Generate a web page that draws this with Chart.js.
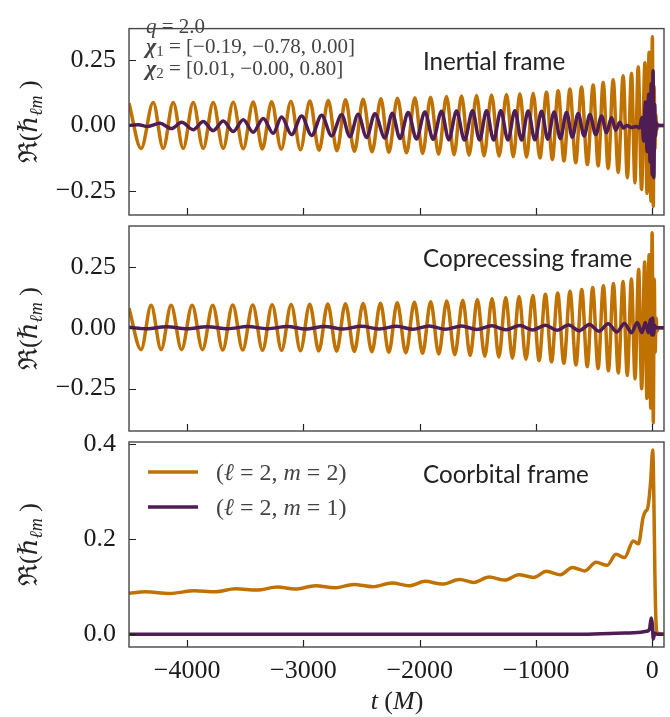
<!DOCTYPE html>
<html>
<head>
<meta charset="utf-8">
<script src="https://cdn.jsdelivr.net/npm/chart.js@4.4.1/dist/chart.umd.min.js"></script>
<style>
  html, body { margin: 0; padding: 0; background: #fff; }
  #wrap { position: relative; width: 670px; height: 717px; }
  #wrap canvas { position: absolute; left: 0; top: 0; }
</style>
</head>
<body>
<div id="wrap">
  <canvas id="inertial" width="670" height="717"></canvas>
  <canvas id="coprec" width="670" height="717"></canvas>
  <canvas id="coorb" width="670" height="717"></canvas>
</div>
<script>
const timeTicks = [-4000, -3000, -2000, -1000, 0];
const strainTicks = [-0.25, 0, 0.25];
const coorbTicks = [0, 0.2, 0.4];
const modeLabels = ["(ℓ = 2, m = 2)", "(ℓ = 2, m = 1)"];
const frameNames = ["Inertial frame", "Coprecessing frame", "Coorbital frame"];
const infoLines = ["q = 2.0", " = [−0.19, −0.78, 0.00]", " = [0.01, −0.00, 0.80]"];

// [t, Re h] at the turning points
const inertial22 = [[-4500,0.085],[-4396,-0.088],[-4292,0.088],[-4206,-0.088],[-4120,0.088],[-4034,-0.088],[-3948,0.088],[-3862,-0.088],[-3776,0.088],[-3690,-0.088],[-3604,0.089],[-3518,-0.089],[-3432,0.09],[-3353,-0.09],[-3274,0.091],[-3191,-0.091],[-3108,0.092],[-3026,-0.093],[-2945,0.094],[-2866,-0.095],[-2787,0.096],[-2712,-0.097],[-2638,0.098],[-2562,-0.099],[-2487,0.1],[-2410,-0.101],[-2334,0.102],[-2266,-0.103],[-2192,0.104],[-2114,-0.105],[-2042,0.106],[-1975,-0.107],[-1907,0.108],[-1838,-0.11],[-1770,0.111],[-1705,-0.112],[-1641,0.113],[-1576,-0.114],[-1512,0.115],[-1447,-0.116],[-1383,0.117],[-1318,-0.118],[-1254,0.119],[-1196,-0.12],[-1139,0.121],[-1082,-0.122],[-1025,0.123],[-967,-0.125],[-910,0.127],[-860,-0.13],[-810,0.133],[-760,-0.136],[-709,0.14],[-659,-0.143],[-609,0.147],[-559,-0.15],[-509,0.155],[-466,-0.155],[-423,0.165],[-380,-0.165],[-337,0.175],[-294,-0.18],[-251,0.19],[-215,-0.2],[-179,0.2],[-150,-0.22],[-122,0.225],[-93,-0.245],[-64,0.24],[-46,-0.26],[-28,0.28],[-12,-0.29],[0,0.34],[8,-0.31],[15,0.15],[22,-0.09],[30,0.04],[38,-0.015],[48,0],[100,0]];
const inertial21 = [[-4500,0],[-4420,0.003],[-4340,-0.004],[-4235,0.008],[-4134,-0.012],[-4048,0.012],[-3948,-0.016],[-3862,0.015],[-3776,-0.02],[-3690,0.017],[-3604,-0.023],[-3518,0.022],[-3432,-0.026],[-3346,0.027],[-3260,-0.03],[-3188,0.032],[-3102,-0.035],[-3016,0.036],[-2930,-0.038],[-2844,0.039],[-2758,-0.04],[-2672,0.041],[-2601,-0.043],[-2530,0.043],[-2457,-0.046],[-2386,0.045],[-2300,-0.048],[-2236,0.047],[-2170,-0.05],[-2100,0.05],[-2028,-0.052],[-1956,0.052],[-1885,-0.053],[-1813,0.054],[-1750,-0.055],[-1684,0.055],[-1615,-0.056],[-1546,0.056],[-1486,-0.056],[-1426,0.056],[-1365,-0.056],[-1303,0.056],[-1242,-0.056],[-1182,0.056],[-1125,-0.056],[-1068,0.055],[-1010,-0.055],[-953,0.054],[-899,-0.053],[-845,0.052],[-791,-0.05],[-738,0.05],[-688,-0.045],[-638,0.046],[-587,-0.04],[-537,0.042],[-487,-0.035],[-437,0.036],[-394,-0.028],[-351,0.03],[-315,-0.018],[-280,0.012],[-250,-0.01],[-220,0],[-180,-0.008],[-140,-0.004],[-110,-0.01],[-90,0.03],[-75,-0.06],[-60,0.09],[-45,-0.1],[-32,0.12],[-20,-0.14],[-10,0.16],[-2,-0.19],[6,0.21],[13,-0.2],[20,0.08],[27,-0.04],[35,0.01],[45,0],[100,0]];
const coprec22 = [[-4500,0.08],[-4396,-0.09],[-4310,0.092],[-4224,-0.09],[-4138,0.092],[-4048,-0.09],[-3957,0.093],[-3868,-0.09],[-3780,0.093],[-3694,-0.091],[-3608,0.094],[-3522,-0.091],[-3436,0.094],[-3352,-0.092],[-3269,0.095],[-3188,-0.093],[-3106,0.096],[-3026,-0.094],[-2946,0.097],[-2868,-0.095],[-2791,0.098],[-2715,-0.096],[-2639,0.099],[-2563,-0.097],[-2487,0.1],[-2412,-0.099],[-2338,0.101],[-2266,-0.101],[-2194,0.103],[-2120,-0.103],[-2046,0.105],[-1976,-0.105],[-1906,0.107],[-1837,-0.108],[-1768,0.11],[-1699,-0.111],[-1630,0.113],[-1567,-0.114],[-1505,0.116],[-1441,-0.117],[-1378,0.12],[-1320,-0.121],[-1261,0.124],[-1203,-0.125],[-1146,0.128],[-1087,-0.13],[-1028,0.133],[-974,-0.135],[-920,0.138],[-867,-0.14],[-814,0.143],[-761,-0.146],[-708,0.15],[-657,-0.153],[-607,0.157],[-560,-0.16],[-513,0.165],[-467,-0.168],[-421,0.173],[-378,-0.177],[-335,0.182],[-293,-0.186],[-252,0.19],[-216,-0.196],[-180,0.2],[-149,-0.21],[-118,0.24],[-92,-0.25],[-66,0.27],[-47,-0.29],[-28,0.3],[-14,-0.33],[-2,0.39],[8,-0.39],[16,0.2],[24,-0.1],[32,0.04],[40,-0.015],[50,0],[100,0]];
const coprec21 = [[-4500,0.002],[-4350,-0.004],[-4180,0.004],[-4000,-0.004],[-3830,0.004],[-3650,-0.004],[-3480,0.005],[-3310,-0.004],[-3140,0.005],[-2980,-0.005],[-2820,0.005],[-2660,-0.005],[-2500,0.006],[-2350,-0.005],[-2200,0.006],[-2060,-0.006],[-1920,0.007],[-1780,-0.006],[-1640,0.007],[-1510,-0.007],[-1380,0.008],[-1260,-0.008],[-1140,0.009],[-1030,-0.009],[-920,0.01],[-820,-0.01],[-720,0.011],[-630,-0.012],[-540,0.013],[-460,-0.014],[-380,0.016],[-305,-0.017],[-240,0.018],[-180,-0.02],[-130,0.022],[-90,-0.02],[-60,0.022],[-35,-0.02],[-15,0.035],[-5,-0.03],[3,0.04],[10,-0.03],[20,0.01],[30,0],[100,0]];
const coorb22 = [[-4500,0.086],[-4360,0.089],[-4149,0.0856],[-3940,0.0912],[-3761,0.089],[-3582,0.0954],[-3403,0.0926],[-3224,0.099],[-3075,0.0947],[-2896,0.1018],[-2731,0.0975],[-2567,0.1046],[-2403,0.0996],[-2239,0.1074],[-2090,0.1018],[-1955,0.111],[-1806,0.1053],[-1657,0.115],[-1537,0.1088],[-1403,0.12],[-1269,0.1137],[-1149,0.125],[-1021,0.1193],[-910,0.132],[-791,0.125],[-687,0.14],[-582,0.133],[-484,0.151],[-388,0.145],[-313,0.168],[-239,0.161],[-164,0.196],[-120,0.19],[-80,0.245],[-60,0.258],[-40,0.265],[-15,0.32],[3,0.387],[12,0.3],[22,0.12],[32,0.02],[40,0.003],[100,0]];
const coorb21 = [[-4500,0],[-600,0],[-300,0.002],[-100,0.004],[-50,0.006],[-25,0.01],[-10,0.034],[0,0.02],[8,-0.01],[20,0.002],[40,0],[100,0]];

const ORANGE = "#c07200";
const PURPLE = "#4e1d54";
const SERIF = '"Liberation Serif", "DejaVu Serif", serif';
const SANS = 'Lato, "Open Sans", sans-serif';

function mathRuns(str, size) {
  const out = [];
  for (const ch of str) {
    const font = (/[A-Za-zℓℏ]/.test(ch) ? "italic " : "") + size + "px " + SERIF;
    const last = out[out.length - 1];
    if (last && last.font === font) last.text += ch;
    else out.push({ text: ch, font });
  }
  return out;
}

function runsWidth(ctx, runs) {
  return runs.reduce((w, r) => {
    ctx.font = r.font;
    return w + ctx.measureText(r.text).width;
  }, 0);
}

function drawRuns(ctx, runs, x, y) {
  runs.forEach((r) => {
    ctx.font = r.font;
    ctx.fillText(r.text, x, y + (r.dy || 0));
    x += ctx.measureText(r.text).width;
  });
}

const panelPlugin = {
  id: "panel",
  afterDatasetsDraw(chart, args, o) {
    const { ctx, chartArea: a } = chart;
    const xs = chart.scales.x;
    const ys = chart.scales.y;
    ctx.save();

    // inward ticks
    ctx.strokeStyle = "#222";
    ctx.lineWidth = 1.2;
    ctx.beginPath();
    timeTicks.forEach((v) => {
      const p = Math.round(xs.getPixelForValue(v)) + 0.5;
      ctx.moveTo(p, a.bottom);
      ctx.lineTo(p, a.bottom - 7);
    });
    o.yTicks.forEach((v) => {
      const p = Math.round(ys.getPixelForValue(v)) + 0.5;
      ctx.moveTo(a.left, p);
      ctx.lineTo(a.left + 7, p);
    });
    ctx.stroke();

    ctx.strokeStyle = "#474747";
    ctx.lineWidth = 1.4;
    ctx.strokeRect(a.left, a.top, a.right - a.left, a.bottom - a.top);

    // y title
    ctx.fillStyle = "#222";
    ctx.textBaseline = "alphabetic";
    const title = [
      { text: "ℜ(", font: "26px " + SERIF },
      { text: "ℏ", font: "italic 26px " + SERIF },
      { text: "ℓm", font: "italic 18px " + SERIF, dy: 5 },
      { text: " )", font: "26px " + SERIF },
    ];
    ctx.save();
    ctx.translate(29, (a.top + a.bottom) / 2);
    ctx.rotate(-Math.PI / 2);
    drawRuns(ctx, title, -runsWidth(ctx, title) / 2, 8);
    ctx.restore();

    // frame name
    ctx.font = "25px " + SANS;
    const fs = (25 * 209) / ctx.measureText(frameNames[1]).width;
    ctx.font = fs.toFixed(1) + "px " + SANS;
    ctx.fillStyle = "#222";
    ctx.fillText(o.name, 423, a.top + 41);

    if (o.info) {
      ctx.fillStyle = "#444";
      drawRuns(ctx, mathRuns(infoLines[0], 21), 146, 33);
      [1, 2].forEach((k) => {
        const runs = [
          { text: "χ", font: "italic bold 22px " + SERIF },
          { text: String(k), font: "15px " + SERIF, dy: 3 },
          ...mathRuns(infoLines[k], 21),
        ];
        drawRuns(ctx, runs, 146, k === 1 ? 53 : 75);
      });
    }

    if (o.legend) {
      chart.data.datasets.forEach((ds, i) => {
        const y = 472 + i * 35;
        ctx.strokeStyle = ds.borderColor;
        ctx.lineWidth = 3.5;
        ctx.beginPath();
        ctx.moveTo(148, y);
        ctx.lineTo(198, y);
        ctx.stroke();
        ctx.fillStyle = "#444";
        drawRuns(ctx, mathRuns(ds.label, 24), 216, y + 8);
      });
    }

    if (o.xTitle) {
      ctx.fillStyle = "#222";
      const runs = mathRuns("t (M)", 26);
      drawRuns(ctx, runs, 397 - runsWidth(ctx, runs) / 2, 709);
    }
    ctx.restore();
  },
};

const minus = (s) => s.replace("-", "−");

function makePanel(id, cfg) {
  const tickFont = { family: SERIF, size: 26 };
  return new Chart(document.getElementById(id), {
    type: "line",
    data: {
      datasets: [
        { label: modeLabels[0], data: cfg.d22.map(([x, y]) => ({ x, y })), borderColor: ORANGE, order: 2 },
        { label: modeLabels[1], data: cfg.d21.map(([x, y]) => ({ x, y })), borderColor: PURPLE, order: 1 },
      ],
    },
    options: {
      responsive: false,
      animation: false,
      devicePixelRatio: 1,
      events: [],
      layout: { padding: { top: cfg.top, bottom: 0, left: 0, right: 6 } },
      elements: {
        point: { radius: 0 },
        line: { borderWidth: 3.5, cubicInterpolationMode: "monotone", borderJoinStyle: "round", fill: false },
      },
      plugins: {
        legend: { display: false },
        tooltip: { enabled: false },
        panel: { yTicks: cfg.yTicks, name: cfg.name, info: cfg.info, legend: cfg.legend, xTitle: cfg.showX },
      },
      scales: {
        x: {
          type: "linear",
          min: -4500,
          max: 100,
          grid: { display: false, drawTicks: false },
          border: { display: false },
          ticks: {
            display: cfg.showX,
            padding: 9,
            font: tickFont,
            color: "#1a1a1a",
            callback: (v) => minus(String(v)),
          },
          afterBuildTicks: (s) => {
            s.ticks = timeTicks.map((value) => ({ value }));
          },
          afterFit: (s) => {
            s.height = 717 - cfg.bottom;
          },
        },
        y: {
          type: "linear",
          min: cfg.yMin,
          max: cfg.yMax,
          grid: { display: false, drawTicks: false },
          border: { display: false },
          ticks: {
            padding: 13,
            font: tickFont,
            color: "#1a1a1a",
            callback: (v) => minus(v.toFixed(cfg.digits)),
          },
          afterBuildTicks: (s) => {
            s.ticks = cfg.yTicks.map((value) => ({ value }));
          },
          afterFit: (s) => {
            s.width = 129;
          },
        },
      },
    },
    plugins: [panelPlugin],
  });
}

makePanel("inertial", {
  d22: inertial22, d21: inertial21, top: 9, bottom: 215,
  yMin: -0.343, yMax: 0.371, yTicks: strainTicks, digits: 2,
  name: frameNames[0], info: true, legend: false, showX: false,
});
makePanel("coprec", {
  d22: coprec22, d21: coprec21, top: 226, bottom: 431,
  yMin: -0.424, yMax: 0.418, yTicks: strainTicks, digits: 2,
  name: frameNames[1], info: false, legend: false, showX: false,
});
makePanel("coorb", {
  d22: coorb22, d21: coorb21, top: 442, bottom: 647,
  yMin: -0.027, yMax: 0.404, yTicks: coorbTicks, digits: 1,
  name: frameNames[2], info: false, legend: true, showX: true,
});
</script>
</body>
</html>
